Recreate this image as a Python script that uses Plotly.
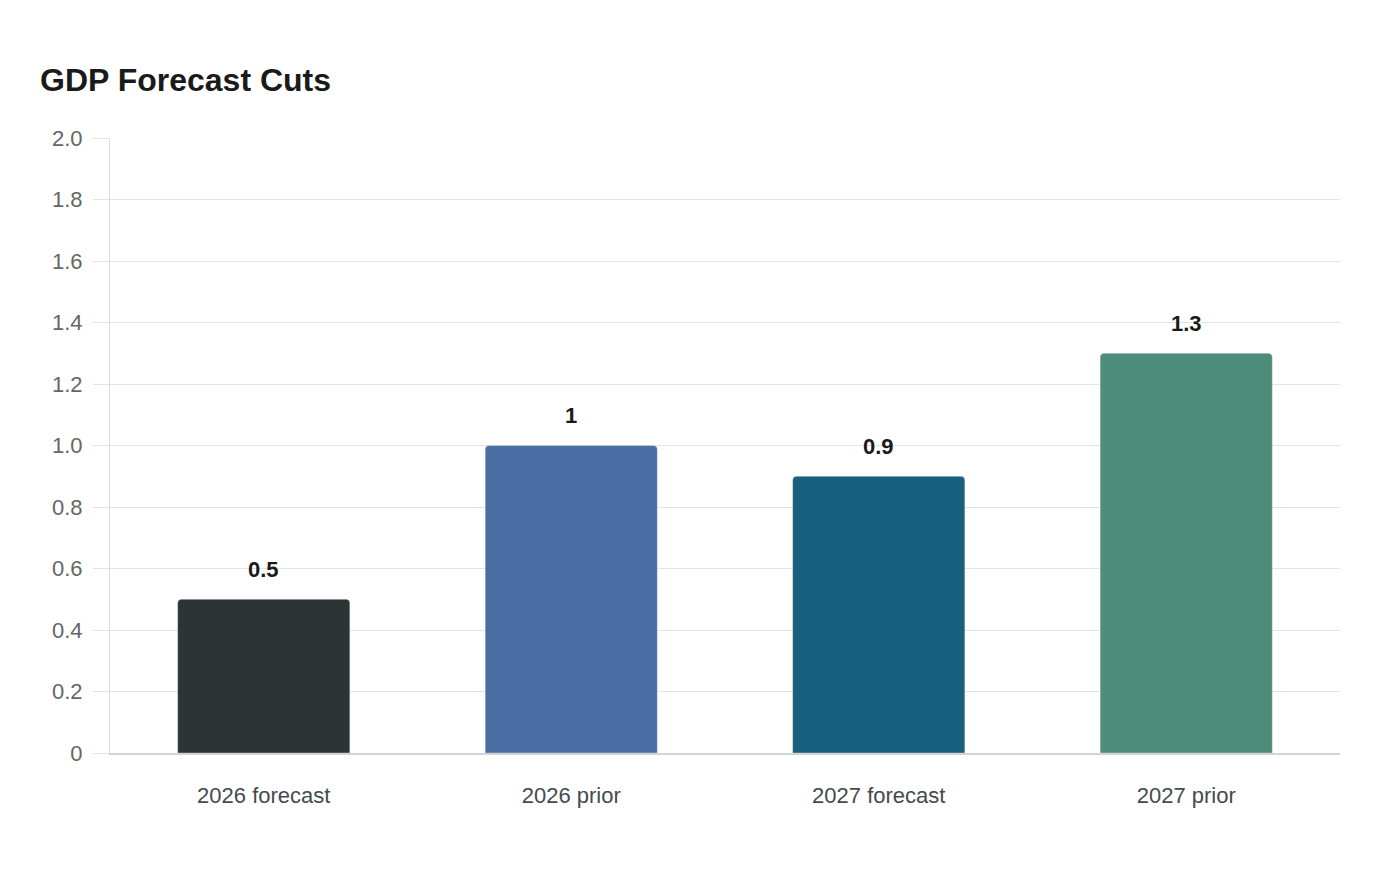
import plotly.graph_objects as go

# GDP forecast data
categories = ["2026 forecast", "2026 prior", "2027 forecast", "2027 prior"]
values = [0.5, 1.0, 0.9, 1.3]
colors = ["#2d3436", "#4a6fa5", "#17607f", "#4e8c7a"]
value_labels = ["0.5", "1", "0.9", "1.3"]

y_ticks = [0, 0.2, 0.4, 0.6, 0.8, 1.0, 1.2, 1.4, 1.6, 1.8, 2.0]
y_tick_labels = ["0", "0.2", "0.4", "0.6", "0.8", "1.0", "1.2", "1.4", "1.6", "1.8", "2.0"]

fig = go.Figure()
fig.add_trace(go.Bar(
    x=categories,
    y=values,
    marker=dict(color=colors, line=dict(color="rgba(255,255,255,0.35)", width=1)),
    hoverinfo="x+y",
))

# value labels above bars
for cat, val, lab in zip(categories, values, value_labels):
    fig.add_annotation(
        x=cat, y=val, text="<b>%s</b>" % lab, showarrow=False,
        yshift=30, font=dict(size=22, color="#1a1a1a"),
    )

fig.update_layout(
    width=1400, height=880,
    title=dict(text="<b>GDP Forecast Cuts</b>", x=32 / 1400, xanchor="left",
               y=1 - 72 / 880, yanchor="middle",
               font=dict(size=32, color="#1a1a1a")),
    font=dict(family="Liberation Sans, Arial, sans-serif"),
    plot_bgcolor="white", paper_bgcolor="white",
    margin=dict(l=102, r=68, t=130, b=135),
    bargap=0.44,
    barcornerradius=4,
    showlegend=False,
)
fig.update_yaxes(
    range=[0, 2.0],
    tickvals=y_ticks, ticktext=y_tick_labels,
    showgrid=True, gridcolor="#e4e4e4", gridwidth=1,
    ticks="outside", ticklen=16, tickcolor="#e4e4e4",
    ticklabelstandoff=6,
    showline=True, linecolor="#dddddd", linewidth=1,
    zeroline=False,
    tickfont=dict(size=22, color="#666666"),
)
fig.update_xaxes(
    showgrid=False,
    showline=True, linecolor="#d4d4d4", linewidth=2,
    ticks="", ticklabelstandoff=22,
    tickfont=dict(size=22, color="#444b4e"),
)

fig.write_html("out.html")
